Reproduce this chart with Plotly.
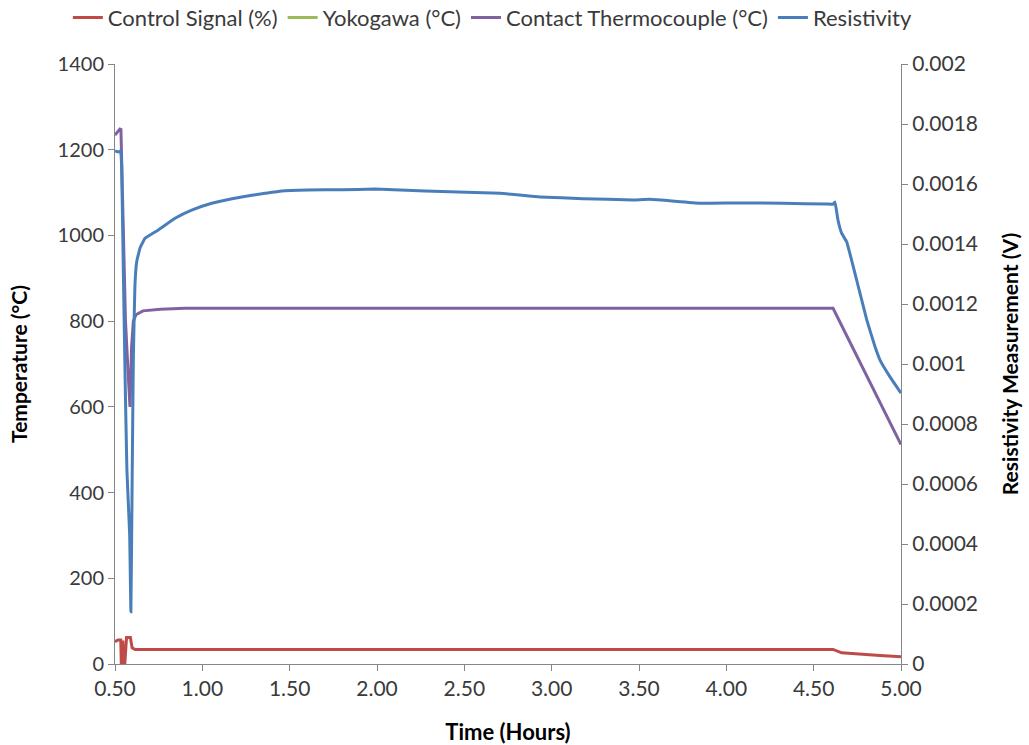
import plotly.graph_objects as go

# ---- data ----
# Control signal (%) on left axis
ctrl_t = [0.500, 0.517, 0.533, 0.536, 0.545, 0.547, 0.556, 0.562, 0.566, 0.588, 0.598, 0.615, 1.50, 2.50, 3.50, 4.611, 4.66, 4.75, 4.88, 5.00]
ctrl_v = [52, 56, 56, 0, 55, 0, 0, 60, 62, 62, 38, 34, 34, 34, 34, 34, 26, 23, 20, 17]

# Yokogawa (°C) - not visible in the chart
yoko_t = [None]
yoko_v = [None]

# Contact thermocouple (°C)
tc_t = [0.500, 0.528, 0.534, 0.545, 0.560, 0.575, 0.586, 0.595, 0.605, 0.620, 0.660, 0.760, 0.900, 2.00, 3.00, 4.00, 4.611, 5.000]
tc_v = [1234, 1248, 1247, 1050, 800, 680, 600, 740, 800, 815, 824, 828, 830, 830, 830, 830, 830, 512]

# Resistivity measurement (V) on right axis
res_t = [0.500, 0.517, 0.532, 0.538, 0.548, 0.558, 0.568, 0.576, 0.584, 0.591, 0.598, 0.605, 0.614, 0.624,
         0.643, 0.672, 0.748, 0.844, 0.939, 1.054, 1.225, 1.359, 1.454, 1.605, 1.798, 1.989, 2.132, 2.418,
         2.704, 2.933, 3.179, 3.466, 3.563, 3.849, 4.038, 4.324, 4.575, 4.612, 4.622, 4.639, 4.660, 4.689,
         4.746, 4.804, 4.850, 4.880, 4.937, 5.000]
res_v = [0.001710, 0.001707, 0.001710, 0.001660, 0.001300, 0.000950, 0.000650, 0.000540, 0.000430, 0.000174,
         0.000600, 0.001017, 0.001260, 0.001340, 0.001386, 0.001419, 0.001447, 0.001486, 0.001513, 0.001536,
         0.001557, 0.001569, 0.001577, 0.001580, 0.001581, 0.001583, 0.001580, 0.001574, 0.001569, 0.001557,
         0.001551, 0.001547, 0.001549, 0.001536, 0.001537, 0.001536, 0.001533, 0.001533, 0.001540, 0.001480,
         0.001436, 0.001407, 0.001280, 0.001147, 0.001060, 0.001013, 0.000957, 0.000903]

left_ticks = [0, 200, 400, 600, 800, 1000, 1200, 1400]
right_ticks = [0, 0.0002, 0.0004, 0.0006, 0.0008, 0.001, 0.0012, 0.0014, 0.0016, 0.0018, 0.002]
right_labels = ["0", "0.0002", "0.0004", "0.0006", "0.0008", "0.001", "0.0012", "0.0014", "0.0016", "0.0018", "0.002"]
x_ticks = [0.5, 1.0, 1.5, 2.0, 2.5, 3.0, 3.5, 4.0, 4.5, 5.0]

RED = "#BE4B48"
GREEN = "#9BBB59"
PURPLE = "#7F63A1"
BLUE = "#4A7EBB"
AXIS = "#868686"
FONT = "Lato"
TXT = "#3A3A3A"

fig = go.Figure()
fig.add_trace(go.Scatter(x=ctrl_t, y=ctrl_v, mode="lines", name="Control Signal (%)",
                         line=dict(color=RED, width=3)))
fig.add_trace(go.Scatter(x=yoko_t, y=yoko_v, mode="lines", name="Yokogawa (°C)",
                         line=dict(color=GREEN, width=3), showlegend=True))
fig.add_trace(go.Scatter(x=tc_t, y=tc_v, mode="lines", name="Contact Thermocouple (°C)",
                         line=dict(color=PURPLE, width=3)))
fig.add_trace(go.Scatter(x=res_t, y=res_v, mode="lines", name="Resistivity", yaxis="y2",
                         line=dict(color=BLUE, width=3, shape="spline", smoothing=0.3)))

fig.update_layout(
    width=1029, height=745,
    margin=dict(l=115, r=128, t=64, b=81, autoexpand=False),
    paper_bgcolor="white", plot_bgcolor="white",
    font=dict(family=FONT, size=20, color=TXT),
    showlegend=True,
    legend=dict(orientation="h", xref="paper", x=-0.06, xanchor="left", yref="paper", y=1.077,
                yanchor="middle", font=dict(family=FONT, size=22, color=TXT), traceorder="normal",
                itemwidth=30),
    xaxis=dict(range=[0.5, 5.0], tickvals=x_ticks, tickformat=".2f", showgrid=False, zeroline=False,
               showline=True, linecolor=AXIS, linewidth=1, ticks="outside", tickcolor=AXIS, ticklen=6,
               tickfont=dict(size=21),
               title=dict(text="<b>Time (Hours)</b>", font=dict(family=FONT, size=22, color="#000000"), standoff=30)),
    yaxis=dict(range=[0, 1400], tickvals=left_ticks, showgrid=False, zeroline=False,
               showline=True, linecolor=AXIS, linewidth=1, ticks="outside", tickcolor=AXIS, ticklen=6,
               tickfont=dict(size=20),
               title=dict(text="<b>Temperature (°C)</b>", font=dict(family=FONT, size=21, color="#000000"), standoff=24)),
    yaxis2=dict(range=[0, 0.002], tickvals=right_ticks, ticktext=right_labels, overlaying="y", side="right",
                showgrid=False, zeroline=False, showline=True, linecolor=AXIS, linewidth=1,
                ticks="outside", tickcolor=AXIS, ticklen=6, tickfont=dict(size=21),
                title=dict(text="<b>Resistivity Measurement (V)</b>", font=dict(family=FONT, size=21, color="#000000"), standoff=26)),
)

fig.write_html("out.html")
